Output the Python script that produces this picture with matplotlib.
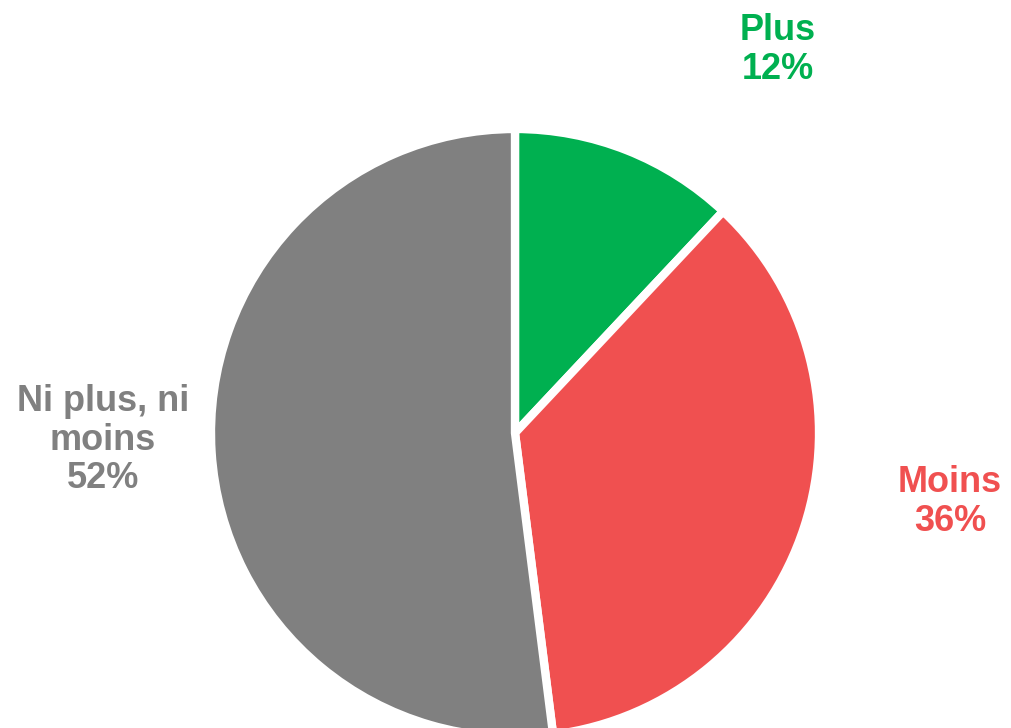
import matplotlib.pyplot as plt

labels = ["Plus", "Moins", "Ni plus, ni\nmoins"]
values = [12, 36, 52]
colors = ["#00B050", "#F05050", "#808080"]

W, H = 1011, 728
fig = plt.figure(figsize=(W / 100, H / 100), dpi=100)
ax = fig.add_axes([0, 0, 1, 1])

center = (515, H - 433)
radius = 304
wedges, _ = ax.pie(
    values,
    colors=colors,
    startangle=90,
    counterclock=False,
    center=center,
    radius=radius,
    explode=[0.02, 0.015, 0.01],
    wedgeprops=dict(edgecolor="white", linewidth=6),
)

label_pos = [(778, 50), (950, 502), (103, 440)]
for lab, val, col, (x, y) in zip(labels, values, colors, label_pos):
    ax.text(x, H - y, f"{lab}\n{val}%", color=col, fontsize=26, fontweight="bold",
            family="Liberation Sans", ha="center", va="center", linespacing=1.12)

ax.set_xlim(0, W)
ax.set_ylim(0, H)
ax.set_aspect("equal")
ax.axis("off")

fig.savefig("out.png", dpi=100)
